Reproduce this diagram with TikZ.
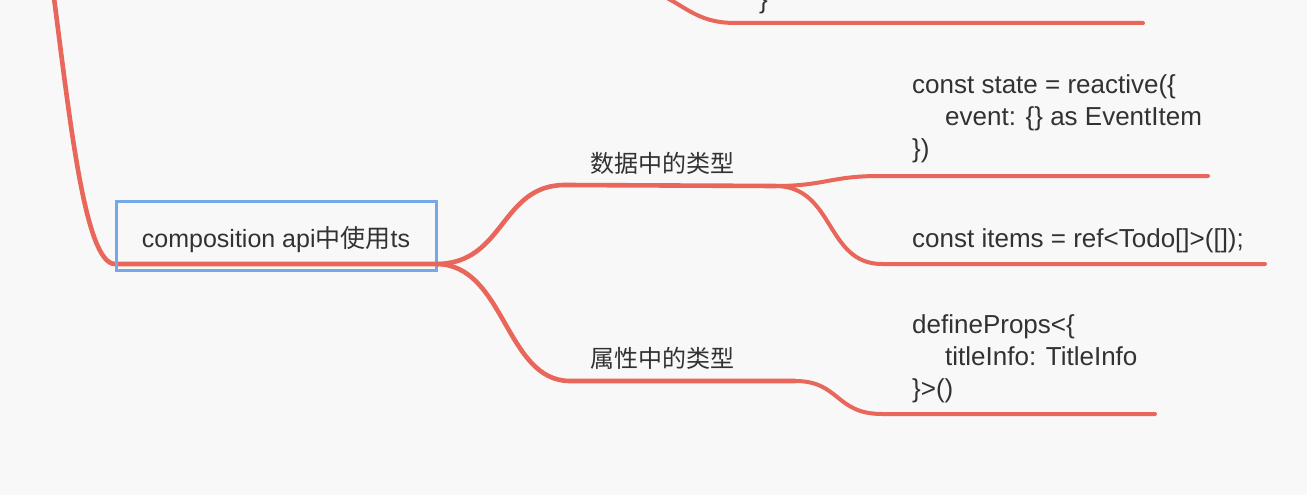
\documentclass[tikz,border=0pt]{standalone}
\usepackage{fontspec}
\setmainfont{Liberation Sans}
\newfontfamily\cjk{Noto Sans CJK SC}
\definecolor{bgc}{RGB}{248,248,248}
\definecolor{branch}{RGB}{233,102,90}
\definecolor{selc}{RGB}{118,168,232}
\definecolor{ink}{RGB}{50,50,50}
\tikzset{
  branchline/.style={draw=branch,line width=4.6pt,line cap=round},
  leafline/.style={draw=branch,line width=4pt,line cap=round},
  codetext/.style={anchor=base west,inner sep=0pt,text=ink,font=\fontsize{26}{30}\selectfont},
  cjktext/.style={anchor=base west,inner sep=0pt,text=ink,font=\cjk\fontsize{24}{30}\selectfont},
  rootbox/.style={draw=selc,line width=3pt,minimum width=320pt,minimum height=69pt,
    text height=28pt,text depth=5pt,inner sep=0pt,text=ink,font=\fontsize{25}{30}\selectfont}
}
\begin{document}
\begin{tikzpicture}[x=1pt,y=-1pt]
\fill[bgc] (0,0) rectangle (1307,495);
\useasboundingbox (0,0) rectangle (1307,495);

% coordinates of connector ends
\coordinate (topL) at (54,-2);
\coordinate (rootL) at (115,264);
\coordinate (rootR) at (436,264);
\coordinate (topA) at (612,-14);
\coordinate (topB) at (735,23);
\coordinate (topC) at (1143,23);
\coordinate (dA) at (565,185);
\coordinate (dB) at (775,186);
\coordinate (s1A) at (880,176);
\coordinate (s1B) at (1208,176);
\coordinate (s2A) at (882,264);
\coordinate (s2B) at (1265,264);
\coordinate (pA) at (570,381);
\coordinate (pB) at (795,381);
\coordinate (p3A) at (882,414);
\coordinate (p3B) at (1155,414);

% top fragments
\draw[leafline] (topA) .. controls (680,-14) and (680,23) .. (topB) -- (topC);
\node[codetext] (brace) at (759,9) {\}};

% parent curve into root
\draw[branchline] (topL) .. controls (70,120) and (85,264) .. (rootL) -- (rootR);

% root node
\node[rootbox] (root) at (276,235.5) {composition api{\cjk 中使用}ts};

% branch: data types
\draw[branchline] (rootR) .. controls (505,264) and (500,185) .. (dA) -- (dB);
\node[cjktext] (data) at (590,172) {数据中的类型};
\draw[leafline] (dB) .. controls (825,186) and (830,176) .. (s1A) -- (s1B);
\draw[leafline] (dB) .. controls (835,186) and (825,264) .. (s2A) -- (s2B);

% branch: prop types
\draw[branchline] (rootR) .. controls (505,264) and (505,381) .. (pA) -- (pB);
\node[cjktext] (prop) at (590,367) {属性中的类型};
\draw[leafline] (pB) .. controls (840,381) and (835,414) .. (p3A) -- (p3B);

% leaf texts
\node[codetext] (st1) at (912,93) {const state = reactive(\{};
\node[codetext] (st2) at (945,125) {event: \{\} as EventItem};
\node[codetext] (st3) at (912,157) {\})};
\node[codetext] (items) at (912,247) {const items = ref<Todo[]>([]);};
\node[codetext] (dp1) at (912,333) {defineProps<\{};
\node[codetext] (dp2) at (945,365) {titleInfo: TitleInfo};
\node[codetext] (dp3) at (912,397) {\}>()};
\end{tikzpicture}
\end{document}
